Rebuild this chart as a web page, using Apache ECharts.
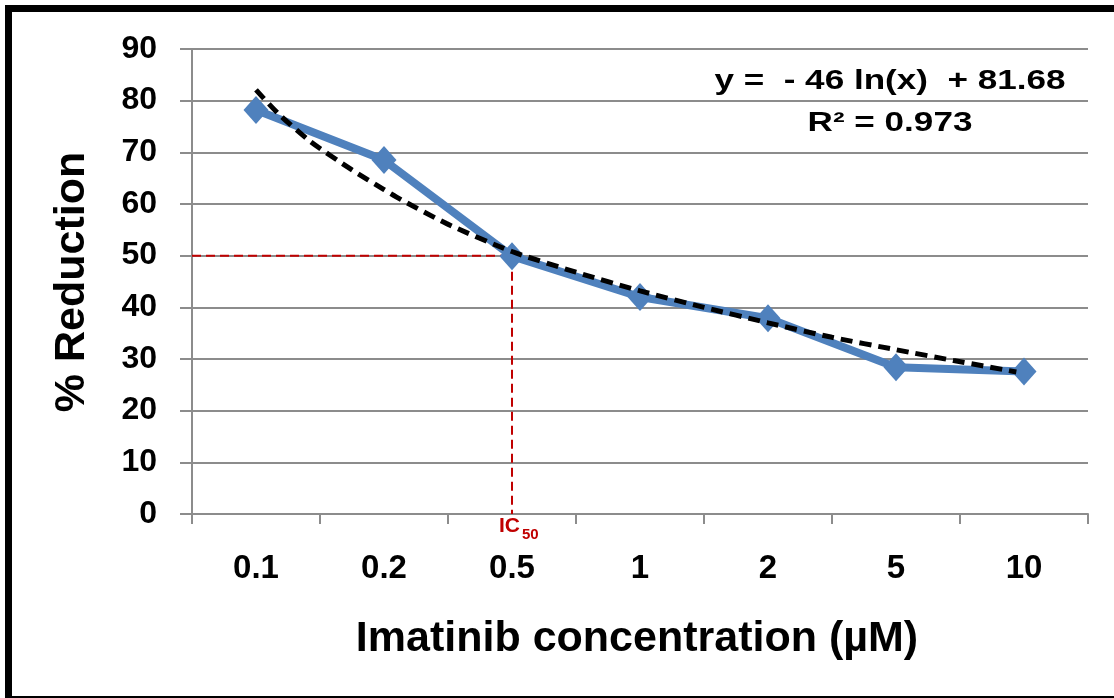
<!DOCTYPE html>
<html><head><meta charset="utf-8">
<script src="https://cdn.jsdelivr.net/npm/echarts@6/dist/echarts.min.js"></script>
<style>html,body{margin:0;padding:0;background:#fff}#c{width:1114px;height:698px}</style>
</head><body><div id="c"></div>
<script>
// Data
const categories = ['0.1', '0.2', '0.5', '1', '2', '5', '10'];
const reduction = [78.2, 68.5, 49.9, 42.0, 37.9, 28.4, 27.6];
// Logarithmic trend line (x in category units, 0 = left edge of axis)
const trendX = [0.5, 0.67, 0.92, 1.25, 1.5, 1.63, 1.99, 2.5, 3.0, 3.5, 4.0, 4.5, 5.0, 5.5, 5.95, 6.44];
const trendY = [82.1, 77.6, 72.2, 66.6, 62.8, 60.9, 56.2, 50.8, 46.8, 43.2, 40.0, 37.0, 34.2, 31.8, 29.7, 27.5];
// IC50 guide lines
const icX = [0, 2.5, 2.5];
const icY = [50, 50, 0];
const yTicks = {min: 0, max: 90, interval: 10};
const equationText = 'y =  - 46 ln(x)  + 81.68';
const r2Text = 'R² = 0.973';

const FONT = '"Liberation Sans", Arial, sans-serif';
const GRAY = '#8c8c8c';
const chart = echarts.init(document.getElementById('c'), null, {renderer: 'canvas'});

function txt(x, y, text, size, opts) {
  opts = opts || {};
  return {
    type: 'text', x: x, y: y, rotation: opts.rotation || 0,
    scaleX: opts.scaleX || 1, scaleY: opts.scaleY || 1, z: 100,
    style: {
      x: 0, y: 0, text: text,
      font: 'bold ' + size + 'px ' + FONT,
      fill: opts.color || '#000',
      textAlign: opts.align || 'center', align: opts.align || 'center',
      textVerticalAlign: 'middle', verticalAlign: 'middle'
    }
  };
}

chart.setOption({
  animation: false,
  backgroundColor: '#fff',
  grid: {left: 192, right: 26, top: 49, bottom: 184, containLabel: false},
  xAxis: [{
    type: 'category', data: categories, boundaryGap: true,
    axisLine: {lineStyle: {color: GRAY, width: 2}},
    axisTick: {show: true, length: 10, lineStyle: {color: GRAY, width: 2}},
    axisLabel: {fontSize: 33, fontWeight: 'bold', color: '#000', fontFamily: FONT, margin: 38},
    splitLine: {show: false}
  }, {
    type: 'value', min: 0, max: 7, show: false
  }],
  yAxis: {
    type: 'value', min: yTicks.min, max: yTicks.max, interval: yTicks.interval,
    axisLine: {show: true, lineStyle: {color: GRAY, width: 2}},
    axisTick: {show: true, length: 12, lineStyle: {color: GRAY, width: 2}},
    axisLabel: {fontSize: 32, fontWeight: 'bold', color: '#000', fontFamily: FONT, margin: 35},
    splitLine: {show: true, lineStyle: {color: GRAY, width: 2}}
  },
  series: [{
    name: 'IC50', type: 'line', xAxisIndex: 1,
    data: icX.map((x, i) => [x, icY[i]]),
    symbol: 'none', z: 2,
    lineStyle: {color: '#c00000', width: 2, type: [9, 5]}
  }, {
    name: '% Reduction', type: 'line', xAxisIndex: 0, data: reduction,
    symbol: 'diamond', symbolSize: [25, 28], z: 3,
    itemStyle: {color: '#4f81bd'},
    lineStyle: {color: '#4f81bd', width: 8}
  }, {
    name: 'Trend', type: 'line', xAxisIndex: 1,
    data: trendX.map((x, i) => [x, trendY[i]]),
    symbol: 'none', smooth: 0.25, z: 4,
    lineStyle: {color: '#000', width: 5, type: [12, 7]}
  }],
  graphic: [
    {type: 'rect', shape: {x: 5, y: 5, width: 1109, height: 7}, style: {fill: '#000'}, z: 100},
    {type: 'rect', shape: {x: 5, y: 5, width: 7, height: 693}, style: {fill: '#000'}, z: 100},
    {type: 'rect', shape: {x: 5, y: 696, width: 1109, height: 2}, style: {fill: '#000'}, z: 100},
    txt(890, 82, equationText, 27, {scaleX: 1.3}),
    txt(890, 124, r2Text, 27, {scaleX: 1.3}),
    txt(72, 282, '% Reduction', 43, {rotation: Math.PI / 2}),
    txt(637, 639, 'Imatinib concentration (µM)', 43),
    txt(499, 526, 'IC', 21, {align: 'left', color: '#c00000'}),
    txt(522, 535, '50', 15, {align: 'left', color: '#c00000'})
  ]
});
</script></body></html>
